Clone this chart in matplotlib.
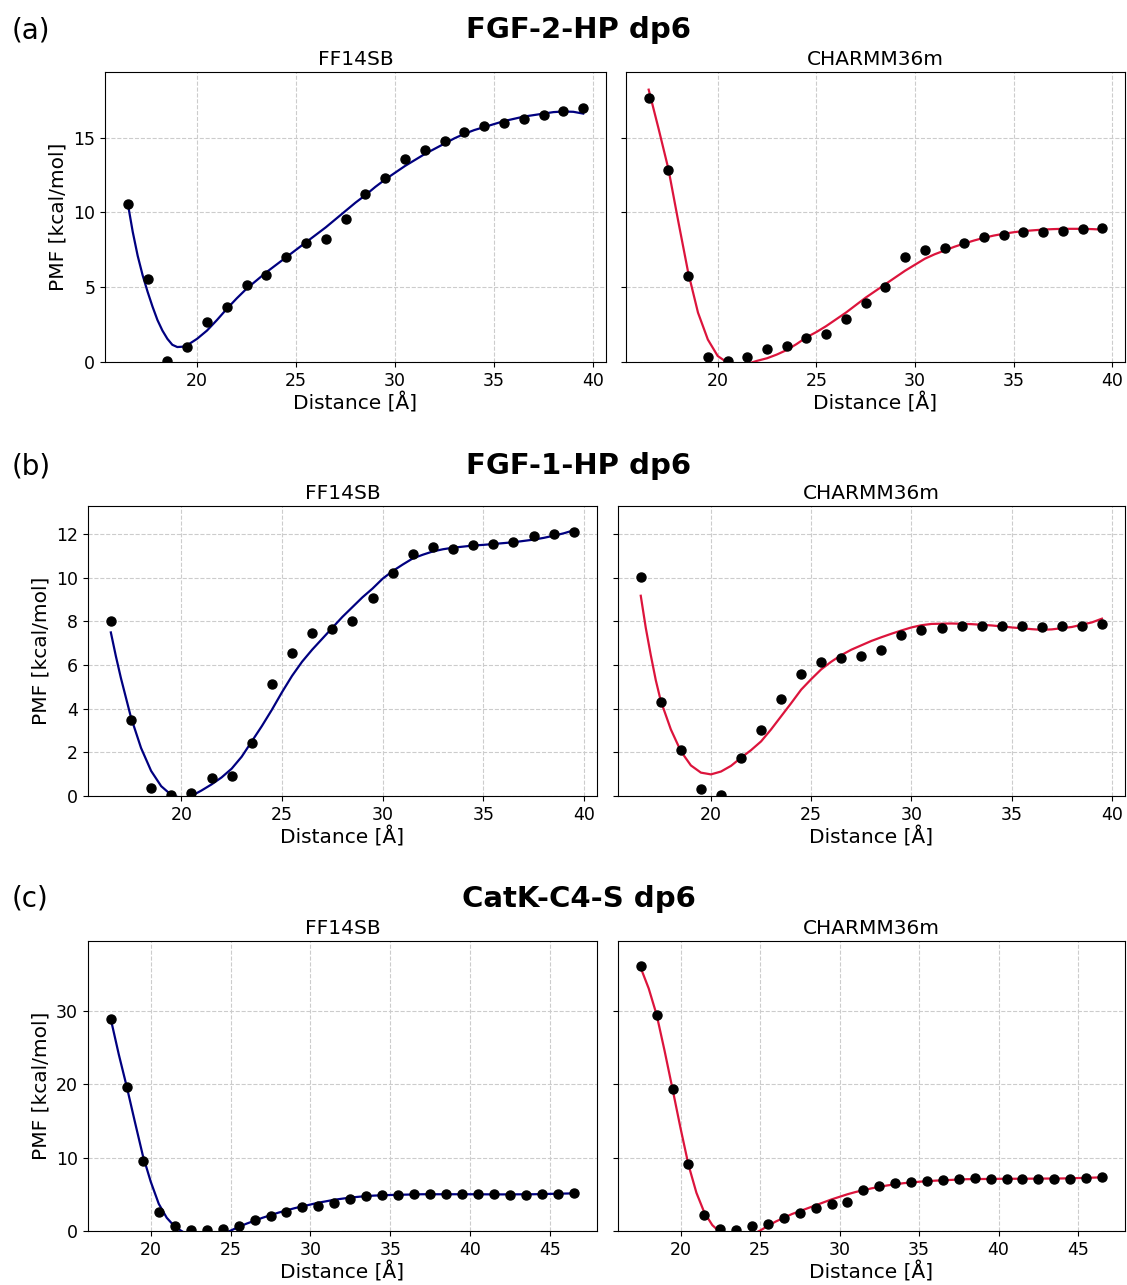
import matplotlib
matplotlib.use('Agg')
import matplotlib.pyplot as plt

# distances of the umbrella windows
dist_ab = [16.5, 17.5, 18.5, 19.5, 20.5, 21.5, 22.5, 23.5, 24.5, 25.5, 26.5, 27.5,
           28.5, 29.5, 30.5, 31.5, 32.5, 33.5, 34.5, 35.5, 36.5, 37.5, 38.5, 39.5]
dist_c = [17.5, 18.5, 19.5, 20.5, 21.5, 22.5, 23.5, 24.5, 25.5, 26.5, 27.5, 28.5,
          29.5, 30.5, 31.5, 32.5, 33.5, 34.5, 35.5, 36.5, 37.5, 38.5, 39.5, 40.5,
          41.5, 42.5, 43.5, 44.5, 45.5, 46.5]

# (a) FGF-2-HP dp6
pmf_a_ff = [10.57, 5.56, 0.04, 1.0, 2.65, 3.65, 5.16, 5.83, 7.01, 7.95, 8.21, 9.53,
            11.22, 12.29, 13.58, 14.2, 14.8, 15.36, 15.74, 15.96, 16.25, 16.51, 16.76, 16.96]
pmf_a_ch = [17.63, 12.84, 5.74, 0.31, 0.04, 0.33, 0.87, 1.07, 1.62, 1.87, 2.87, 3.94,
            4.99, 6.99, 7.48, 7.63, 7.95, 8.35, 8.52, 8.66, 8.70, 8.75, 8.86, 8.97]
fit_a_ff_x = [16.5, 16.75, 17.0, 17.25, 17.5, 17.75, 18.0, 18.25, 18.5, 18.75, 19.0, 19.25,
              19.5, 20.0, 20.5, 21.0, 21.5, 22.0, 22.5, 23.0, 23.5, 24.0, 24.5, 25.0, 25.5,
              26.0, 26.5, 27.0, 27.5, 28.0, 28.5, 29.0, 29.5, 30.0, 30.5, 31.0, 31.5, 32.0,
              32.5, 33.0, 33.5, 34.0, 34.5, 35.0, 35.5, 36.0, 36.5, 37.0, 37.5, 38.0, 38.5,
              39.0, 39.5]
fit_a_ff_y = [10.6, 8.7, 7.1, 5.8, 4.7, 3.7, 2.8, 2.1, 1.55, 1.15, 1.0, 1.02,
              1.12, 1.55, 2.1, 2.8, 3.55, 4.25, 4.9, 5.45, 6.0, 6.5, 7.0, 7.5, 8.0,
              8.5, 9.0, 9.55, 10.1, 10.65, 11.15, 11.7, 12.2, 12.65, 13.1, 13.5, 13.9, 14.25,
              14.6, 14.95, 15.25, 15.5, 15.7, 15.9, 16.1, 16.25, 16.4, 16.5, 16.6, 16.7, 16.74,
              16.72, 16.6]
fit_a_ch_x = [16.5, 17.0, 17.5, 18.0, 18.5, 19.0, 19.5, 20.0, 20.5, 21.0, 21.5, 21.8,
              22.0, 22.5, 23.0, 23.5, 24.0, 24.5, 25.0, 25.5, 26.0, 26.5, 27.0, 27.5, 28.0,
              28.5, 29.0, 29.5, 30.0, 30.5, 31.0, 31.5, 32.0, 32.5, 33.0, 33.5, 34.0, 34.5,
              35.0, 35.5, 36.0, 36.5, 37.0, 37.5, 38.0, 38.5, 39.0, 39.5]
fit_a_ch_y = [18.2, 15.6, 12.9, 9.4, 6.0, 3.3, 1.5, 0.4, -0.05, -0.25, -0.15, 0.0,
              0.08, 0.25, 0.5, 0.8, 1.2, 1.65, 2.0, 2.4, 2.85, 3.3, 3.8, 4.3, 4.75,
              5.2, 5.65, 6.1, 6.5, 6.9, 7.2, 7.45, 7.7, 7.92, 8.12, 8.3, 8.45, 8.57,
              8.67, 8.75, 8.8, 8.85, 8.88, 8.9, 8.9, 8.9, 8.88, 8.85]

# (b) FGF-1-HP dp6
pmf_b_ff = [8.03, 3.50, 0.37, 0.05, 0.14, 0.82, 0.93, 2.42, 5.12, 6.55, 7.45, 7.66,
            8.0, 9.08, 10.2, 11.07, 11.4, 11.33, 11.48, 11.56, 11.65, 11.89, 12.02, 12.08]
pmf_b_ch = [10.02, 4.32, 2.12, 0.32, 0.03, 1.75, 3.02, 4.45, 5.59, 6.14, 6.30, 6.41,
            6.70, 7.37, 7.60, 7.71, 7.80, 7.80, 7.77, 7.77, 7.74, 7.77, 7.80, 7.86]
fit_b_ff_x = [16.5, 16.75, 17.0, 17.5, 18.0, 18.5, 19.0, 19.5, 20.0, 20.5, 21.0, 21.5,
              22.0, 22.5, 23.0, 23.5, 24.0, 24.5, 25.0, 25.5, 26.0, 26.5, 27.0, 27.5, 28.0,
              28.5, 29.0, 29.5, 30.0, 30.5, 31.0, 31.5, 32.0, 32.5, 33.0, 33.5, 34.0, 34.5,
              35.0, 35.5, 36.0, 36.5, 37.0, 37.5, 38.0, 38.5, 39.0, 39.5]
fit_b_ff_y = [7.49, 6.4, 5.4, 3.6, 2.2, 1.15, 0.45, 0.05, -0.1, 0.0, 0.25, 0.53,
              0.85, 1.25, 1.8, 2.5, 3.2, 3.95, 4.75, 5.5, 6.15, 6.7, 7.2, 7.7, 8.2,
              8.65, 9.1, 9.5, 9.95, 10.3, 10.6, 10.88, 11.05, 11.2, 11.3, 11.37, 11.42, 11.47,
              11.5, 11.54, 11.58, 11.62, 11.68, 11.74, 11.82, 11.92, 12.03, 12.17]
fit_b_ch_x = [16.5, 16.75, 17.0, 17.25, 17.5, 18.0, 18.5, 19.0, 19.5, 20.0, 20.5, 21.0,
              21.5, 22.0, 22.5, 23.0, 23.5, 24.0, 24.5, 25.0, 25.5, 26.0, 26.5, 27.0, 27.5,
              28.0, 28.5, 29.0, 29.5, 30.0, 30.5, 31.0, 32.0, 33.0, 34.0, 35.0, 36.0, 36.5,
              37.0, 38.0, 39.0, 39.5]
fit_b_ch_y = [9.17, 7.7, 6.45, 5.3, 4.35, 3.05, 2.05, 1.4, 1.07, 0.99, 1.12, 1.38,
              1.75, 2.1, 2.5, 3.05, 3.65, 4.25, 4.87, 5.35, 5.8, 6.15, 6.45, 6.7, 6.9,
              7.1, 7.27, 7.43, 7.58, 7.72, 7.82, 7.88, 7.9, 7.87, 7.81, 7.72, 7.64, 7.61,
              7.63, 7.74, 7.95, 8.12]

# (c) CatK-C4-S dp6
pmf_c_ff = [28.9, 19.6, 9.55, 2.6, 0.73, 0.14, 0.14, 0.23, 0.73, 1.45, 2.0, 2.6,
            3.27, 3.45, 3.86, 4.41, 4.73, 4.91, 4.86, 5.0, 5.09, 5.05, 5.05, 5.05,
            5.0, 4.95, 4.95, 5.0, 5.09, 5.14]
pmf_c_ch = [36.0, 29.4, 19.3, 9.05, 2.14, 0.32, 0.09, 0.73, 0.91, 1.73, 2.5, 3.09,
            3.68, 4.0, 5.59, 6.14, 6.5, 6.68, 6.77, 6.95, 7.14, 7.18, 7.09, 7.14,
            7.14, 7.14, 7.14, 7.14, 7.23, 7.32]
fit_c_ff_x = [17.5, 18.0, 18.5, 19.0, 19.5, 20.0, 20.5, 21.0, 21.5, 22.0, 22.5, 23.0,
              23.5, 24.0, 24.5, 25.0, 25.5, 26.0, 26.5, 27.0, 27.5, 28.0, 28.5, 29.0, 29.5,
              30.0, 30.5, 31.0, 31.5, 32.0, 32.5, 33.0, 33.5, 34.0, 35.0, 36.0, 37.0, 38.0,
              40.0, 42.0, 44.0, 45.0, 46.5]
fit_c_ff_y = [28.8, 24.0, 19.6, 14.9, 10.3, 6.7, 3.7, 1.8, 0.6, -0.1, -0.6, -0.85,
              -0.9, -0.75, -0.4, 0.05, 0.55, 1.0, 1.4, 1.8, 2.15, 2.5, 2.8, 3.1, 3.35,
              3.6, 3.85, 4.05, 4.25, 4.4, 4.55, 4.65, 4.75, 4.82, 4.9, 4.95, 5.0, 5.0,
              5.0, 4.98, 5.0, 5.05, 5.12]
fit_c_ch_x = [17.5, 18.0, 18.5, 19.0, 19.5, 20.0, 20.5, 21.0, 21.5, 22.0, 22.4, 23.0,
              23.5, 24.0, 24.5, 25.0, 25.5, 26.0, 26.5, 27.0, 27.5, 28.0, 28.5, 29.0, 29.5,
              30.0, 30.5, 31.0, 31.5, 32.0, 32.5, 33.0, 33.5, 34.0, 35.0, 36.0, 37.0, 38.0,
              40.0, 42.0, 44.0, 45.0, 46.5]
fit_c_ch_y = [35.8, 33.0, 29.4, 24.5, 19.3, 14.0, 9.0, 5.2, 2.5, 0.8, 0.0, -0.6,
              -0.9, -0.85, -0.5, 0.05, 0.7, 1.3, 1.8, 2.3, 2.7, 3.1, 3.5, 3.9, 4.3,
              4.65, 5.0, 5.3, 5.55, 5.8, 6.0, 6.2, 6.35, 6.5, 6.7, 6.85, 6.95, 7.05,
              7.1, 7.12, 7.15, 7.2, 7.3]

rows = [
    ('(a)', 'FGF-2-HP dp6', dist_ab, pmf_a_ff, pmf_a_ch,
     (fit_a_ff_x, fit_a_ff_y), (fit_a_ch_x, fit_a_ch_y), 19.4, [0, 5, 10, 15]),
    ('(b)', 'FGF-1-HP dp6', dist_ab, pmf_b_ff, pmf_b_ch,
     (fit_b_ff_x, fit_b_ff_y), (fit_b_ch_x, fit_b_ch_y), 13.28, [0, 2, 4, 6, 8, 10, 12]),
    ('(c)', 'CatK-C4-S dp6', dist_c, pmf_c_ff, pmf_c_ch,
     (fit_c_ff_x, fit_c_ff_y), (fit_c_ch_x, fit_c_ch_y), 39.5, [0, 10, 20, 30]),
]

W, H = 1127, 1285
fig = plt.figure(figsize=(W / 100, H / 100), dpi=100)

# axes boxes in pixels: (left_L, right_L, left_R, right_R, top, bottom)
boxes = [(105, 606, 626, 1125, 71.7, 362),
         (87.7, 597, 617.7, 1125, 506, 796),
         (87.7, 597, 617.7, 1125, 940.7, 1231)]
title_y = [30, 466, 899]

for r, (letter, name, x, y_ff, y_ch, fit_ff, fit_ch, ytop, yt) in enumerate(rows):
    lL, rL, lR, rR, top, bot = boxes[r]
    axL = fig.add_axes([lL / W, 1 - bot / H, (rL - lL) / W, (bot - top) / H])
    axR = fig.add_axes([lR / W, 1 - bot / H, (rR - lR) / W, (bot - top) / H], sharey=axL)

    for ax, pts, fit, col, sub in [(axL, y_ff, fit_ff, 'navy', 'FF14SB'),
                                   (axR, y_ch, fit_ch, '#DC143C', 'CHARMM36m')]:
        ax.plot(fit[0], fit[1], '-', color=col, lw=1.6, zorder=2)
        ax.plot(x, pts, 'o', color='black', ms=6.5, zorder=3)
        ax.grid(True, linestyle='--', color='0.8', lw=0.8)
        ax.set_axisbelow(True)
        ax.set_title(sub, fontsize=14.5, pad=5)
        ax.set_xlabel('Distance [Å]', fontsize=14.5, labelpad=2)
        ax.tick_params(labelsize=12.5)
        ax.margins(x=0.05)

    axL.set_ylim(0, ytop)
    axL.set_yticks(yt)
    axL.set_ylabel('PMF [kcal/mol]', fontsize=14.5)
    axR.tick_params(labelleft=False)

    fig.text(12 / W, 1 - title_y[r] / H, letter, fontsize=20, va='center', ha='left')
    fig.text(579 / W, 1 - title_y[r] / H, name, fontsize=21, fontweight='bold',
             va='center', ha='center')

fig.savefig('out.png', dpi=100)
